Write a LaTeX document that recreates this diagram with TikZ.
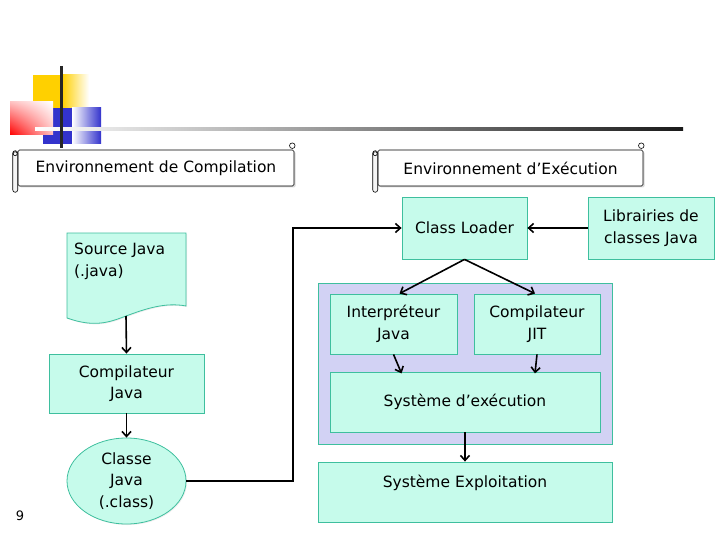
\documentclass[tikz,border=0pt]{standalone}
\usepackage{fontspec}
\setmainfont{DejaVu Sans}
\usetikzlibrary{arrows.meta, positioning, shapes, shadows, shadings, calc}
\definecolor{aqua}{HTML}{C6FBEB}
\definecolor{aquaedge}{HTML}{3EBF9E}
\definecolor{lavender}{HTML}{D2D2F4}
\definecolor{logoyellow}{HTML}{FFD000}
\definecolor{logoblue}{HTML}{3333CC}

\begin{document}
\begin{tikzpicture}[
    x=1pt, y=-1pt,
    font=\fontsize{15.5}{21.5}\selectfont,
    >={Straight Barb[length=5pt, width=9pt]},
    box/.style={draw=aquaedge, fill=aqua, line width=0.8pt, align=center, inner sep=2pt, drop shadow={shadow xshift=1pt, shadow yshift=-1pt, opacity=0.15}},
    container/.style={draw=aquaedge, fill=lavender, line width=0.8pt},
    scroll/.style={draw, fill=white, rounded corners=1.5pt, line width=0.6pt, drop shadow={shadow xshift=1.5pt, shadow yshift=-1.5pt, opacity=0.3}},
    scrollroll/.style={draw, fill=gray!8, rounded corners=2.5pt, line width=0.6pt},
    arr/.style={->, line width=1.6pt}
]
\useasboundingbox (0,0) rectangle (720,540);

% ===== LOGO =====
\fill[logoyellow] (33,75) rectangle (62,108);
\shade[left color=logoyellow, right color=white] (62,75) rectangle (89,108);
\fill[logoblue] (43,108) rectangle (72,144);
\shade[left color=white, right color=logoblue] (72,108) rectangle (101,144);
\shade[lower left=red, upper right=white, upper left=red!25, lower right=red!25] (10,102) rectangle (53,135);
\shade[left color=white, right color=black!90] (35,127.5) rectangle (683,131);
\draw[line width=2.5pt, black!85] (61.5,66) -- (61.5,148);

% ===== TITLES =====
\node[scroll, minimum width=276, minimum height=36] (envcomp) at (156,168) {Environnement de Compilation};
\draw[scrollroll] ([xshift=-5pt, yshift=-1pt]envcomp.north west) rectangle ([yshift=-6pt]envcomp.south west);
\draw[line width=0.6pt] ([xshift=-2.5pt, yshift=-4pt]envcomp.north west) circle (2pt);
\draw[line width=0.6pt, fill=white] ([xshift=-2pt, yshift=4pt]envcomp.north east) circle (2.8pt);

\node[scroll, minimum width=265, minimum height=36] (envexec) at (510.5,168) {Environnement d'Exécution};
\draw[scrollroll] ([xshift=-5pt, yshift=-1pt]envexec.north west) rectangle ([yshift=-6pt]envexec.south west);
\draw[line width=0.6pt] ([xshift=-2.5pt, yshift=-4pt]envexec.north west) circle (2pt);
\draw[line width=0.6pt, fill=white] ([xshift=-2pt, yshift=4pt]envexec.north east) circle (2.8pt);

% ===== COMPILATION SIDE =====
% Source file (document shape)
\draw[draw=aquaedge, fill=aqua, line width=0.8pt, drop shadow={shadow xshift=1pt, shadow yshift=-1pt, opacity=0.15}]
    (67,233) -- (186,233) -- (186,306)
    .. controls (165,302) and (145,309) .. (126,316)
    .. controls (110,322) and (95,328) .. (67,318) -- cycle;
\node[anchor=north west, align=left, inner sep=0pt] (src) at (74,243) {Source Java\\(.java)};
\coordinate (srcbot) at (126,316);

\node[box, minimum width=155, minimum height=59] (compj) at (126.5,383.5) {Compilateur\\Java};
\node[box, ellipse, minimum width=119, minimum height=82] (classe) at (126.5,481) {Classe\\Java\\(.class)};

% ===== EXECUTION SIDE =====
\node[box, minimum width=125, minimum height=62] (loader) at (464.5,228) {Class Loader};
\node[box, minimum width=126, minimum height=62] (libs) at (651,228) {Librairies de\\classes Java};

\node[container, minimum width=294, minimum height=161] (jvm) at (465,363.5) {};
\node[box, minimum width=127, minimum height=60] (interp) at (393.5,324) {Interpréteur\\Java};
\node[box, minimum width=126, minimum height=60] (jit) at (537,324) {Compilateur\\JIT};
\node[box, minimum width=270, minimum height=60] (sysexec) at (465,402) {Système d'exécution};

\node[box, minimum width=294, minimum height=60, text depth=22pt] (os) at (465,492) {Système Exploitation};

% page number
\node[font=\fontsize{13}{15}\selectfont] (pagenum) at (20,516) {9};

% ===== CONNECTIONS =====
\coordinate (turn) at (293,228);
\draw[arr] (srcbot) -- (compj.north);
\draw[arr] (compj) -- (classe);
\draw[arr] (classe.east) -| (turn) -- (loader.west);
\draw[arr] (libs) -- (loader);

\draw[arr] (loader.south) -- ([xshift=6pt]interp.north);
\draw[arr] (loader.south) -- ([xshift=-2pt]jit.north);
\draw[arr] (interp.south) -- ++(8,19);
\draw[arr] (jit.south) -- ++(-2,19);
\draw[arr] (sysexec.south) -- (os.north);

\end{tikzpicture}
\end{document}
